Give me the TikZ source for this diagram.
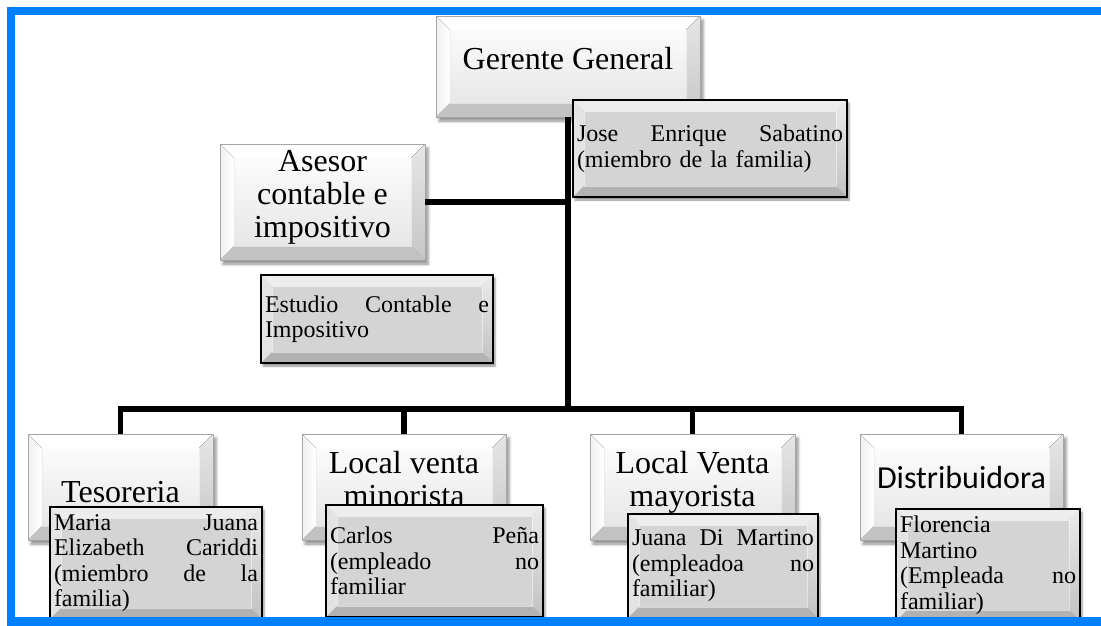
\documentclass[tikz,border=0pt]{standalone}
\usepackage{fontspec}
\setmainfont{Liberation Serif}
\newfontfamily\calibri{Carlito}
\usetikzlibrary{shadows.blur}

\definecolor{framblue}{RGB}{0,128,255}

% four bevel faces painted inside a rectangular node
% #1 depth, #2 top, #3 left, #4 right, #5 bottom
\newcommand\bevelfaces[5]{%
  \coordinate (bvA) at (path picture bounding box.north west);
  \coordinate (bvB) at (path picture bounding box.north east);
  \coordinate (bvC) at (path picture bounding box.south east);
  \coordinate (bvD) at (path picture bounding box.south west);
  \coordinate (bva) at ([shift={(#1,#1)}]bvA);
  \coordinate (bvb) at ([shift={(-#1,#1)}]bvB);
  \coordinate (bvc) at ([shift={(-#1,-#1)}]bvC);
  \coordinate (bvd) at ([shift={(#1,-#1)}]bvD);
  \fill[#2] (bvA) -- (bvB) -- (bvb) -- (bva) -- cycle;
  \fill[#3] (bvA) -- (bva) -- (bvd) -- (bvD) -- cycle;
  \fill[#4] (bvB) -- (bvC) -- (bvc) -- (bvb) -- cycle;
  \fill[#5] (bvD) -- (bvC) -- (bvc) -- (bvd) -- cycle;
  \draw[white, opacity=.5, line width=.6pt] (bva) -- (bvb) -- (bvc) -- (bvd) -- cycle;
}

\tikzset{
  x=1pt, y=-1pt,
  unitbox/.style={
    draw=black!35, line width=.6pt,
    top color=white, bottom color=black!11,
    blur shadow={shadow xshift=3pt, shadow yshift=-4pt,
                 shadow blur radius=3pt, shadow opacity=45},
    path picture={\bevelfaces{14}{fill=white}{left color=black!6, right color=white}
                              {top color=black!10, bottom color=black!22}{fill=black!24}},
    inner sep=0pt
  },
  unittext/.style={inner sep=0pt, align=center, font=\fontsize{32}{33}\selectfont},
  namebox/.style={
    draw=black, line width=2.6pt,
    fill=black!17,
    blur shadow={shadow xshift=2pt, shadow yshift=-3pt,
                 shadow blur radius=2pt, shadow opacity=45},
    path picture={\bevelfaces{11}{fill=black!7}{fill=black!11}
                              {top color=black!8, bottom color=black!24}{fill=black!30}},
    inner xsep=4pt, inner ysep=2pt, align=left,
    font=\fontsize{24}{25.5}\selectfont
  },
  conn/.style={draw=black, line width=5.5pt, line join=miter}
}

\begin{document}
\begin{tikzpicture}
\useasboundingbox (0,0) rectangle (1101,626);

% unit boxes (frames only; captions are placed separately)
\node[unitbox, minimum width=264, minimum height=101] (gg)    at (568,66.5)  {};
\node[unitbox, minimum width=205, minimum height=116] (ase)   at (322.5,202) {};
\node[unitbox, minimum width=185, minimum height=106] (teso)  at (120.5,487) {};
\node[unitbox, minimum width=204, minimum height=106] (lvmin) at (404,487)   {};
\node[unitbox, minimum width=205, minimum height=106] (lvmay) at (692.5,487) {};
\node[unitbox, minimum width=203, minimum height=106] (dist)  at (961.5,487) {};

% connectors
\coordinate (hub) at (gg.south |- 0,409);
\draw[conn] (gg.south) -- (hub);
\draw[conn] (ase.east) -- (ase.east -| gg.south);
\draw[conn] (teso.north) |- (hub) -| (dist.north);
\draw[conn] (lvmin.north) -- (lvmin.north |- hub);
\draw[conn] (lvmay.north) -- (lvmay.north |- hub);

% captions of the unit boxes
\node[unittext] (ggt)    at (568,59)    {Gerente General};
\node[unittext] (aset)   at (322.5,197) {Asesor\\contable e\\impositivo};
\node[unittext] (tesot)  at (120.5,492) {Tesoreria};
\node[unittext] (lvmint) at (404,479)   {Local venta\\minorista};
\node[unittext] (lvmayt) at (692.5,482) {Local Venta\\mayorista};
\node[unittext, font=\calibri\fontsize{32}{33}\selectfont] (distt) at (961.5,478) {Distribuidora};

% people in charge
\node[namebox, text width=266, minimum height=97] (jose) at (710,148.5)
  {Jose\hfill Enrique\hfill Sabatino\\(miembro de la familia)};
\node[namebox, text width=224, minimum height=88] (est) at (377,319)
  {Estudio\hfill Contable\hfill e\\Impositivo};
\node[namebox, text width=204, minimum height=112] (maria) at (156,563)
  {Maria\hfill Juana\\Elizabeth\hfill Cariddi\\(miembro\hfill de\hfill la\\familia)};
\node[namebox, text width=209, minimum height=112] (carlos) at (434.5,561)
  {Carlos\hfill Peña\\(empleado\hfill no\\familiar};
\node[namebox, text width=182, minimum height=104] (juana) at (723,566)
  {Juana\hfill Di\hfill Martino\\(empleadoa\hfill no\\familiar)};
\node[namebox, text width=176, minimum height=112] (flor) at (988,565)
  {Florencia\\Martino\\(Empleada\hfill no\\familiar)};

% page frame
\fill[framblue] (7,7) rectangle (1101,15);
\fill[framblue] (7,7) rectangle (15,626);
\fill[framblue] (7,617) rectangle (1101,626);
\end{tikzpicture}
\end{document}
